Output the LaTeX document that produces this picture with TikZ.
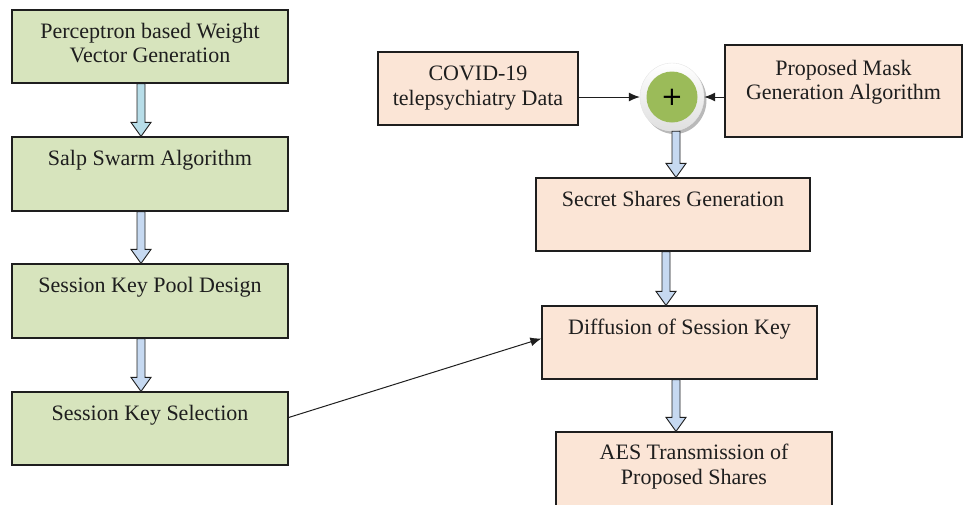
\documentclass[tikz,border=0pt]{standalone}
\usepackage{fontspec}
\setmainfont{Liberation Serif}
\newfontfamily\plusfont{DejaVu Sans}
\usetikzlibrary{calc,arrows.meta,shapes.geometric}
\definecolor{gfill}{HTML}{D7E4BD}
\definecolor{pfill}{HTML}{FBE5D6}
\definecolor{afill}{HTML}{C6D9F1}
\definecolor{afillc}{HTML}{B7DDE8}
\definecolor{cgreen}{HTML}{9BBB59}
\definecolor{ink}{HTML}{1E1E1E}
\newcommand\blockarrow[3][afill]{%
  \filldraw[barrowsty, fill=#1] let \p1=#2, \p2=#3 in
    (\x1-4pt,\y1) -- (\x1-4pt,\y2+14pt) -- (\x1-10pt,\y2+14pt) -- (\x1,\y2)
    -- (\x1+10pt,\y2+14pt) -- (\x1+4pt,\y2+14pt) -- (\x1+4pt,\y1) -- cycle;}
\begin{document}
\begin{tikzpicture}[x=1pt,y=-1pt,
  box/.style={draw=ink, line width=1.2pt, inner sep=0pt, rectangle},
  gbox/.style={box, fill=gfill, minimum width=276pt},
  pbox/.style={box, fill=pfill},
  tl/.style={anchor=north, inner sep=0pt, yshift=-13.5pt, align=center, text=ink,
    font=\fontsize{22}{24.5}\selectfont},
  barrowsty/.style={draw=ink, line width=0.9pt, line join=miter},
  conn/.style={draw=ink, line width=1pt, -{Latex[length=11pt,width=9pt]}}]
\useasboundingbox (0,0) rectangle (963,504);
\clip (0,0) rectangle (963,504);
% left column
\node[gbox, minimum height=73pt, label={[tl]north:Perceptron based Weight\\Vector Generation}] (b1) at (150,46.5) {};
\node[gbox, minimum height=74pt, label={[tl]north:Salp Swarm Algorithm}] (b2) at (150,174) {};
\node[gbox, minimum height=74pt, label={[tl]north:Session Key Pool Design}] (b3) at (150,301) {};
\node[gbox, minimum height=73pt, label={[tl]north:Session Key Selection}] (b4) at (150,428.5) {};
% right column
\node[pbox, minimum width=200pt, minimum height=73pt, label={[tl, yshift=-1pt]north:COVID-19\\telepsychiatry Data}] (cov) at (478,88.5) {};
\node[pbox, minimum width=237pt, minimum height=92pt, label={[tl, yshift=-2pt]north:Proposed Mask\\Generation Algorithm}] (mask) at (843.5,91) {};
\fill[gray!55] (674.5,100) ellipse [x radius=32pt, y radius=34pt];
\node[ellipse, minimum width=64pt, minimum height=68pt, inner sep=0pt, top color=white, bottom color=gray!25, draw=gray!20, line width=0.4pt] (halo) at (672,97) {};
\node[circle, fill=cgreen, minimum size=51pt, inner sep=0pt, text=black, font=\plusfont\fontsize{26}{26}\selectfont] (plus) at (672,97) {+};
\node[pbox, minimum width=274pt, minimum height=73pt, label={[tl]north:Secret Shares Generation}] (sec) at (673,214.5) {};
\node[pbox, minimum width=275pt, minimum height=73pt, label={[tl]north:Diffusion of Session Key}] (dif) at (679.5,342.5) {};
\node[pbox, minimum width=276pt, minimum height=78pt, label={[tl, yshift=1pt]north:AES Transmission of\\Proposed Shares}] (aes) at (694,471) {};
% connectors
\draw[conn] (cov.east |- halo.west) -- (halo.west);
\draw[conn] (mask.west |- halo.east) -- (halo.east);
\draw[conn] ([yshift=11pt]b4.east) -- ([yshift=4pt]dif.west);
% block arrows
\blockarrow[afillc]{([xshift=-9pt]b1.south)}{(b2.north)}
\blockarrow{([xshift=-9pt]b2.south)}{(b3.north)}
\blockarrow{([xshift=-9pt]b3.south)}{(b4.north)}
\blockarrow{([xshift=4pt]halo.south)}{(sec.north)}
\blockarrow{([xshift=-7pt]sec.south)}{(dif.north)}
\blockarrow{([xshift=-3.5pt]dif.south)}{(aes.north)}
\end{tikzpicture}
\end{document}
